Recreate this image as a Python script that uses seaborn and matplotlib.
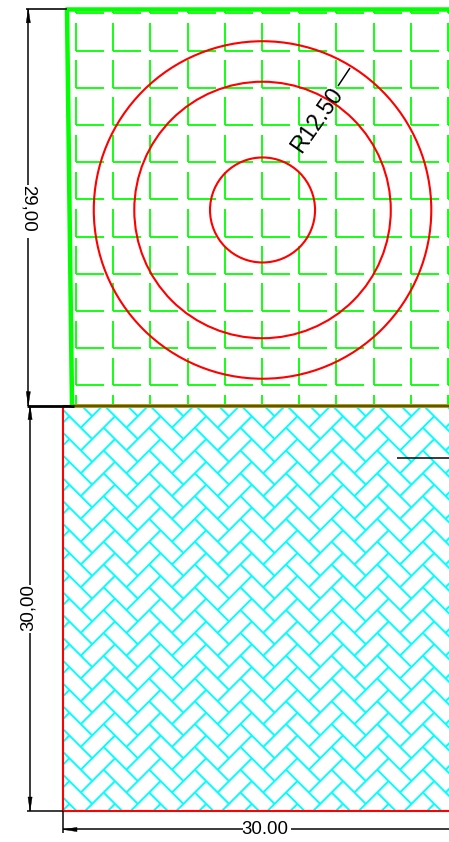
import matplotlib
matplotlib.use("Agg")
import matplotlib.pyplot as plt
import pandas as pd
import seaborn as sns
from matplotlib.patches import Rectangle, Circle, Polygon

# Drawing units (the square below is 30 x 30)
UNIT_PX = 13.5
XLIM = (-63 / UNIT_PX, 386 / UNIT_PX)
YLIM = (-31 / UNIT_PX, 811 / UNIT_PX)

circle_center = (14.78, 44.52)
circle_radii = [12.5, 9.5, 3.89]

# green "L" hatch
green_x0, green_y0 = 0.963, 56.33
green_pitch = 2.756
green_leg_h, green_leg_v = 2.07, 2.04
green_cols = range(0, 11)
green_rows = range(-1, 11)

# cyan herringbone hatch
hb_x0, hb_y0 = 3.852, 29.24
hb_px, hb_py = 3.378, 1.689
hb_dash = 2.53
hb_back = 0.84

# outline
wall_x = [0.296, 0.667]
wall_y = [59.41, 30.0]
top_y = 59.42
floor_y = 30.03
SQ = 30.0

dims_text = ["29,00", "30,00", "30.00", "R12.50"]

sns.set_theme(style="white")
plt.rcParams["font.family"] = ["Liberation Sans", "DejaVu Sans"]

fig = plt.figure(figsize=(4.49, 8.42), dpi=100)
ax = fig.add_axes([0, 0, 1, 1])
ax.set_xlim(*XLIM)
ax.set_ylim(*YLIM)
ax.axis("off")

PX = 0.72


def segs(items, color, width, clip=None, z=2):
    rows = []
    for n, ((x1, y1), (x2, y2)) in enumerate(items):
        rows.append((n, 0, x1, y1))
        rows.append((n, 1, x2, y2))
    df = pd.DataFrame(rows, columns=["seg", "o", "x", "y"])
    before = len(ax.lines)
    sns.lineplot(data=df, x="x", y="y", units="seg", estimator=None, sort=False,
                 color=color, linewidth=width * PX, ax=ax, legend=False, errorbar=None,
                 zorder=z, solid_capstyle="butt")
    if clip is not None:
        for ln in ax.lines[before:]:
            ln.set_clip_path(clip)


# herringbone
hb_clip = Rectangle((0, 0), SQ, SQ, transform=ax.transData, fill=False, ec="none")
ax.add_patch(hb_clip)
hb = []
for i in range(-2, 12):
    for j in range(-2, 22):
        tx = hb_x0 + i * hb_px
        ty = hb_y0 - j * hb_py
        hb.append(((tx, ty), (tx - hb_dash, ty - hb_dash)))
        hb.append(((tx - hb_back, ty + hb_back), (tx - hb_back + hb_dash, ty + hb_back - hb_dash)))
segs(hb, "#00FFFF", 1.9, clip=hb_clip, z=2)

# green L hatch
gr = []
for k in green_cols:
    for j in green_rows:
        cx = green_x0 + k * green_pitch
        cy = green_y0 - j * green_pitch
        if cy > floor_y:
            gr.append(((cx, cy), (cx + green_leg_h, cy)))
            gr.append(((cx, cy), (cx, min(cy + green_leg_v, top_y))))
        else:
            gr.append(((cx, floor_y), (cx, cy + green_leg_v)))
segs(gr, "#00FF00", 1.8, z=3)

# green outline
segs([((wall_x[0], wall_y[0]), (wall_x[1], wall_y[1]))], "#00FF00", 4.5, z=4)
segs([((wall_x[0] - 0.15, top_y), (SQ, top_y))], "#00FF00", 4.5, z=4)
segs([((wall_x[1], floor_y), (SQ, floor_y))], "#00FF00", 4.0, z=4)

# red geometry
for r in circle_radii:
    ax.add_patch(Circle(circle_center, r, fill=False, ec="#FF0000", lw=2.1 * PX, zorder=5))
segs([((0, 0), (0, floor_y)), ((0, 0), (SQ, 0)), ((0, floor_y), (SQ, floor_y))], "#FF0000", 2.1, z=5)

# dimensions
K = "#000000"
dx29 = -2.57
dx30 = -2.44
dy_b = -1.37
segs([((-2.75, top_y), (wall_x[0], top_y))], K, 1.6, z=6)
segs([((-2.67, floor_y), (0.8, floor_y))], K, 2.8, z=6)
segs([((-2.67, 0), (0, 0))], K, 1.5, z=6)
segs([((0, 0), (0, -1.6))], K, 1.5, z=6)
segs([((dx29, top_y), (dx29, 46.37)), ((dx29, 42.44), (dx29, floor_y))], K, 1.5, z=6)
segs([((dx30, floor_y), (dx30, 16.74)), ((dx30, 13.19), (dx30, 0))], K, 1.5, z=6)
segs([((0, dy_b), (13.3, dy_b)), ((16.9, dy_b), (SQ, dy_b))], K, 1.5, z=6)
segs([((24.74, 26.15), (SQ, 26.15))], K, 1.5, z=6)
segs([((20.37, 53.7), (21.26, 55.04))], K, 1.5, z=6)


def arrow(x, y, ux, uy):
    L, W = 14 / UNIT_PX, 2.1 / UNIT_PX
    ax.add_patch(Polygon([(x, y), (x + ux * L - uy * W, y + uy * L + ux * W),
                          (x + ux * L + uy * W, y + uy * L - ux * W)], closed=True,
                         fc=K, ec=K, lw=0.3, zorder=6))


arrow(dx29, top_y, 0, -1)
arrow(dx29, floor_y, 0, 1)
arrow(dx30, floor_y, 0, -1)
arrow(dx30, 0, 0, 1)
arrow(0, dy_b, 1, 0)

fs = 13.4
ax.text(-2.6, 44.62, dims_text[0], rotation=-90, ha="center", va="center", fontsize=fs, color=K, zorder=7)
ax.text(-2.56, 15.05, dims_text[1], rotation=90, ha="center", va="center", fontsize=fs, color=K, zorder=7)
ax.text(14.96, dy_b, dims_text[2], ha="center", va="center", fontsize=fs, color=K, zorder=7)
ax.text(18.82, 51.2, dims_text[3], rotation=55, rotation_mode="anchor", ha="center", va="center", fontsize=16.5, color=K, zorder=7)

fig.savefig("out.png", dpi=100)
